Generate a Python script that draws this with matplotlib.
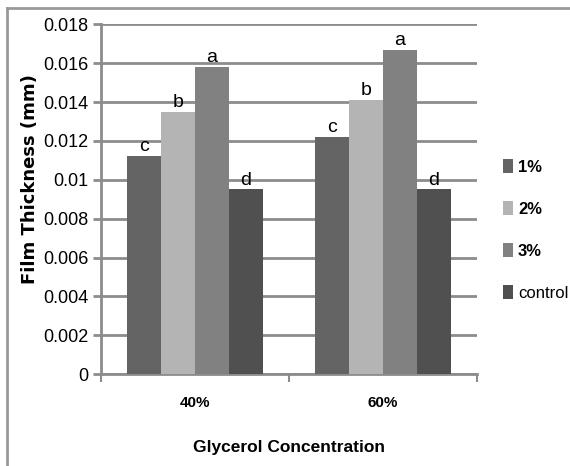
import matplotlib
matplotlib.use("Agg")
import matplotlib.pyplot as plt
import numpy as np
from matplotlib.lines import Line2D

# data
groups = ["40%", "60%"]
series = ["1%", "2%", "3%", "control"]
vals_1 = [0.0112, 0.0122]
vals_2 = [0.0135, 0.0141]
vals_3 = [0.0158, 0.0167]
vals_ctrl = [0.0095, 0.0095]
letters_1 = ["c", "c"]
letters_2 = ["b", "b"]
letters_3 = ["a", "a"]
letters_ctrl = ["d", "d"]
yticks = [0, 0.002, 0.004, 0.006, 0.008, 0.01, 0.012, 0.014, 0.016, 0.018]
ytick_labels = ["0", "0.002", "0.004", "0.006", "0.008", "0.01", "0.012", "0.014", "0.016", "0.018"]

colors = ["#646464", "#b4b4b4", "#818181", "#505050"]
narrow = "Liberation Sans"

fig = plt.figure(figsize=(5.7, 4.66), dpi=100)
ax = fig.add_axes([0.177, 0.197, 0.66, 0.751])

# outer frame (top and left edges only visible)
fig.lines.append(Line2D([7/570, 1.0], [1 - 8/466, 1 - 8/466], transform=fig.transFigure,
                        color="#999999", lw=2))
fig.lines.append(Line2D([7/570, 7/570], [0, 1 - 8/466], transform=fig.transFigure,
                        color="#999999", lw=2))

all_vals = [vals_1, vals_2, vals_3, vals_ctrl]
all_letters = [letters_1, letters_2, letters_3, letters_ctrl]
x = np.arange(len(groups))
w = 0.18
for i, (v, c, lab, let) in enumerate(zip(all_vals, colors, series, all_letters)):
    pos = x + (i - 1.5) * w
    ax.bar(pos, v, width=w, color=c, label=lab, zorder=3)
    for p, val, t in zip(pos, v, let):
        ax.text(p, val + 0.00005, t, ha="center", va="bottom", fontsize=14,
                family=narrow, zorder=4)

ax.set_xlim(-0.5, 1.5)
ax.set_ylim(0, 0.018)
ax.set_yticks(yticks)
ax.set_yticklabels(ytick_labels, family=narrow, fontsize=13)
ax.set_xticks(x)
ax.set_xticklabels(groups, family=narrow, fontsize=11, fontweight="bold")
ax.tick_params(axis="x", length=0, pad=16)
ax.set_xticks([-0.5, 0.5, 1.5], minor=True)
ax.tick_params(axis="x", which="minor", length=6, width=1.5, color="#8c8c8c")
ax.tick_params(axis="y", length=6, width=2, color="#8c8c8c", pad=3)
ax.yaxis.grid(True, color="#8c8c8c", lw=2, zorder=0)
for s in ["top", "right"]:
    ax.spines[s].set_visible(False)
ax.spines["left"].set_color("#8c8c8c")
ax.spines["left"].set_linewidth(2)
ax.spines["bottom"].set_color("#8c8c8c")
ax.spines["bottom"].set_linewidth(2)

ax.set_ylabel("Film Thickness (mm)", fontsize=13, fontweight="bold", va="center")
ax.yaxis.set_label_coords(-0.189, 0.557)
ax.set_xlabel("Glycerol Concentration", family=narrow, fontsize=12.5, fontweight="bold", labelpad=21)

leg = ax.legend(loc="center left", bbox_to_anchor=(1.069, 0.413), frameon=False,
                borderaxespad=0, borderpad=0,
                handlelength=0.6, handleheight=1.0, labelspacing=1.55, handletextpad=0.3,
                prop={"family": narrow, "size": 12})
for t in leg.get_texts()[:3]:
    t.set_fontweight("bold")

fig.savefig("out.png", dpi=100)
